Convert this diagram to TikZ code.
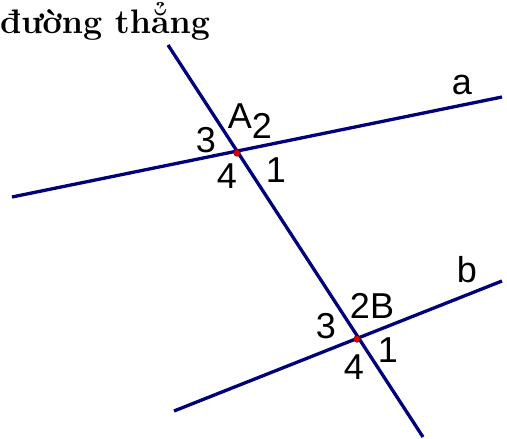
\documentclass[tikz,border=0pt]{standalone}
\usepackage{fontspec}
\newfontfamily\labelfont{Liberation Sans}
\usetikzlibrary{positioning}
\definecolor{linenavy}{HTML}{00007A}
\definecolor{pointred}{HTML}{E00000}

\begin{document}
\begin{tikzpicture}[x=1pt, y=-1pt,
  line/.style={draw=linenavy, line width=3.3pt},
  lbl/.style={font=\labelfont\fontsize{36}{36}\selectfont, inner sep=0pt},
  pt/.style={circle, fill=pointred, draw=pointred!60!black, line width=0.6pt,
    minimum size=6.5pt, inner sep=0pt}
]
\useasboundingbox (0,0) rectangle (507,439);

\node[anchor=base west, inner sep=0pt,
  font=\fontsize{34}{40}\selectfont\bfseries] (title) at (0,33) {đường thẳng};

% end points of the three lines
\coordinate (t1) at (168,45);
\coordinate (t2) at (423,437);
\coordinate (a1) at (12,197);
\coordinate (a2) at (502,97);
\coordinate (b1) at (174,411);
\coordinate (b2) at (502,281);

\draw[line] (a1) -- (a2);
\draw[line] (b1) -- (b2);
\draw[line] (t1) -- (t2);

\node[pt] (A) at (237,153) {};
\node[pt] (B) at (357,339) {};

% line names
\node[lbl] (la) at (462,85) {a};
\node[lbl] (lb) at (467,270) {b};

% angles at A
\node[lbl] (nA) at (240,116) {A};
\node[lbl] (A2) at (262,126) {2};
\node[lbl] (A3) at (206,140) {3};
\node[lbl] (A4) at (227,176) {4};
\node[lbl] (A1) at (276,170) {1};

% angles at B
\node[lbl] (nB) at (372,306) {2B};
\node[lbl] (B3) at (326,326) {3};
\node[lbl] (B4) at (354,367) {4};
\node[lbl] (B1) at (388,350) {1};
\end{tikzpicture}
\end{document}
